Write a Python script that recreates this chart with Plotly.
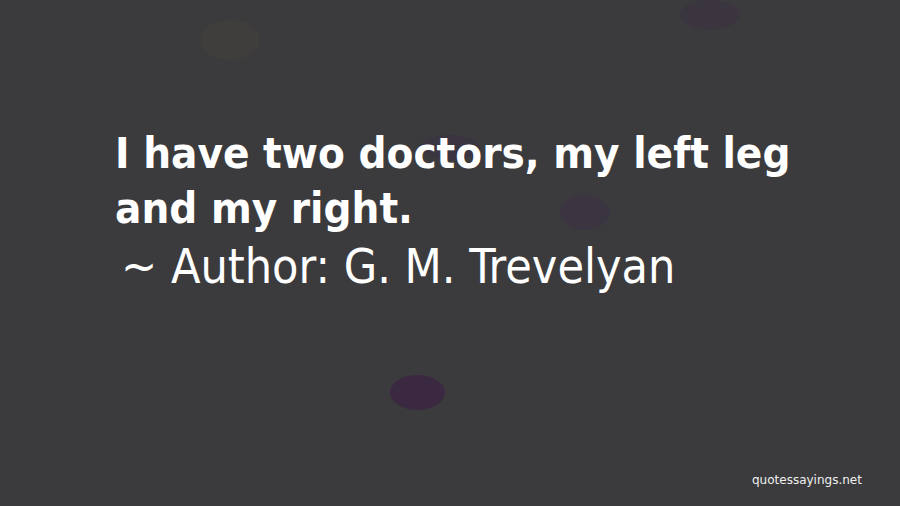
import plotly.graph_objects as go

quote_lines = ["I have two doctors, my left leg", "and my right."]
author_line = "~ Author: G. M. Trevelyan"
watermark = "quotessayings.net"

BG = "#3b3b3d"
W, H = 900, 506

fig = go.Figure()

def py(y):
    return 1 - y / H

def px(x):
    return x / W

quote_tops = [125.5, 180.5]
for line, top in zip(quote_lines, quote_tops):
    fig.add_annotation(
        text=line, x=px(113), y=py(top), xref="paper", yref="paper",
        xanchor="left", yanchor="top", showarrow=False,
        font=dict(family="DejaVu Sans Condensed", size=43.5, color="#ffffff", weight="bold"),
    )

fig.add_annotation(
    text=author_line, x=px(119), y=py(236), xref="paper", yref="paper",
    xanchor="left", yanchor="top", showarrow=False,
    font=dict(family="DejaVu Sans Condensed", size=48, color="#ffffff", weight="normal"),
)

fig.add_annotation(
    text=watermark, x=px(864), y=py(489), xref="paper", yref="paper",
    xanchor="right", yanchor="bottom", showarrow=False,
    font=dict(family="DejaVu Sans", size=12, color="#f0f0f0"),
)

blotches = [
    (390, 375, 445, 410, "rgba(60,20,70,0.45)"),
    (420, 135, 480, 160, "rgba(60,30,80,0.25)"),
    (560, 195, 610, 230, "rgba(60,30,80,0.25)"),
    (680, 0, 740, 30, "rgba(60,30,80,0.2)"),
    (200, 20, 260, 60, "rgba(90,80,60,0.15)"),
]
for x0, y0, x1, y1, c in blotches:
    fig.add_shape(type="circle", xref="paper", yref="paper",
                  x0=px(x0), x1=px(x1), y0=py(y1), y1=py(y0),
                  fillcolor=c, line=dict(width=0), layer="below")

fig.update_layout(
    width=W, height=H,
    margin=dict(l=0, r=0, t=0, b=0),
    paper_bgcolor=BG, plot_bgcolor=BG,
    xaxis=dict(visible=False, range=[0, 1]),
    yaxis=dict(visible=False, range=[0, 1]),
    showlegend=False,
)

fig.write_html(
    "out.html",
    config={"displayModeBar": False},
    post_script="document.body.style.margin='0';document.body.style.background='%s';" % BG,
)
